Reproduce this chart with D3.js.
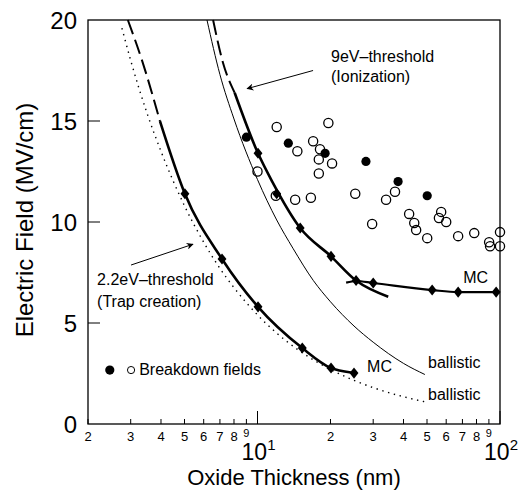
<!DOCTYPE html>
<html>
<head>
<meta charset="utf-8">
<script src="https://cdn.jsdelivr.net/npm/d3@7"></script>
<style>
  body { margin: 0; background: #fff; }
  svg { font-family: "Liberation Sans", Arial, Helvetica, sans-serif; }
  text { fill: #000; }
</style>
</head>
<body>
<svg id="chart"></svg>
<script>
// chart size
const width = 520;
const height = 492;
const margin = { top: 20, right: 20, bottom: 68, left: 88 };

// axis ticks
const xMinorTicks = [2, 3, 4, 5, 6, 7, 8, 9, 20, 30, 40, 50, 60, 70, 80, 90];
const xMajorTicks = [10, 100];
const xMajorExp = ["1", "2"];
const yTicks = [0, 5, 10, 15, 20];

// ballistic curves [thickness nm, field MV/cm]
const ballistic22 = [[2.76, 19.6], [3.0, 18.0], [3.5, 15.4], [4, 13.5], [5, 10.8], [6, 9.0], [7, 7.7],
  [8, 6.75], [10, 5.4], [12, 4.5], [15, 3.6], [20, 2.7], [25, 2.16], [30, 1.8], [40, 1.35], [49, 1.1]];
const ballistic9 = [[6.19, 20], [7, 17.3], [8, 15.1], [10, 12.1], [12, 10.1], [14, 8.7], [17, 7.1],
  [20, 6.05], [25, 4.85], [30, 4.05], [40, 3.0], [49, 2.45]];

// threshold curves (dashed extrapolation + MC solid part)
const thr22Dashed = [[2.92, 20], [3.34, 18.0], [3.96, 15.0]];
const thr22Solid = [[3.96, 15.0], [5.02, 11.4], [7.14, 8.17], [10.05, 5.8], [15.3, 3.76], [20.1, 2.77], [24.3, 2.55]];
const thr9Dashed = [[6.56, 20], [7.2, 17.9], [8.05, 16.4]];
const thr9Solid = [[8.05, 16.4], [10.05, 13.4], [11.5, 12.0], [15.0, 9.7], [20.1, 8.3], [25.5, 7.1], [34.6, 6.3]];
const mcFlat = [[23.2, 7.0], [25.5, 7.08], [30, 6.98], [52.5, 6.63], [67.2, 6.53], [96.4, 6.53], [100, 6.52]];

// MC diamonds
const mcLow = [[5.02, 11.4], [7.14, 8.17], [10.05, 5.8], [15.3, 3.76], [20.1, 2.77], [25.0, 2.52]];
const mcHigh = [[10.05, 13.4], [12.0, 11.4], [15.0, 9.7], [20.1, 8.3], [25.5, 7.1], [30, 6.98],
  [52.5, 6.63], [67.2, 6.53], [96.4, 6.53]];

// breakdown fields
const breakdownFilled = [[9.0, 14.2], [13.4, 13.9], [19.0, 13.4], [28.0, 13.0], [38.0, 12.0], [50.1, 11.3]];
const breakdownOpen = [[10.0, 12.5], [11.9, 11.3], [12.0, 14.7], [14.6, 13.5], [14.3, 11.1], [16.6, 11.2],
  [16.96, 14.0], [18.1, 13.6], [17.9, 13.1], [17.9, 12.4], [19.6, 14.9], [20.3, 12.9], [25.3, 11.4],
  [29.7, 9.9], [33.9, 11.1], [36.9, 11.5], [42.2, 10.4], [44.3, 9.95], [45.1, 9.6], [50.1, 9.2],
  [57.2, 10.5], [56.0, 10.2], [60.0, 10.0], [67.2, 9.3], [78.3, 9.45], [90.2, 9.0], [91, 8.8],
  [100, 9.5], [100, 8.8]];

const svg = d3.select("#chart")
  .attr("width", width)
  .attr("height", height);

const x = d3.scaleLog()
  .domain([2, 100])
  .range([margin.left, width - margin.right]);

const y = d3.scaleLinear()
  .domain([0, 20])
  .range([height - margin.bottom, margin.top]);

const x0 = margin.left, x1 = width - margin.right;
const y0 = height - margin.bottom, y1 = margin.top;

// frame
svg.append("rect")
  .attr("x", x0).attr("y", y1)
  .attr("width", x1 - x0).attr("height", y0 - y1)
  .attr("fill", "none").attr("stroke", "#000").attr("stroke-width", 1.3);

// y ticks (inside)
svg.selectAll(".ytick")
  .data(yTicks.filter(d => d > 0 && d < 20))
  .enter().append("line")
  .attr("x1", x0).attr("x2", x0 + 12)
  .attr("y1", d => y(d)).attr("y2", d => y(d))
  .attr("stroke", "#000").attr("stroke-width", 1);

svg.selectAll(".ylab")
  .data(yTicks)
  .enter().append("text")
  .attr("x", x0 - 11)
  .attr("y", d => y(d))
  .attr("dy", "0.36em")
  .style("text-anchor", "end")
  .style("font-size", "24px")
  .text(d => d);

// x ticks (inside)
svg.selectAll(".xminor")
  .data(xMinorTicks)
  .enter().append("line")
  .attr("x1", d => x(d)).attr("x2", d => x(d))
  .attr("y1", y0).attr("y2", y0 - 5)
  .attr("stroke", "#000").attr("stroke-width", 1);

svg.selectAll(".xmajor")
  .data(xMajorTicks)
  .enter().append("line")
  .attr("x1", d => x(d)).attr("x2", d => x(d))
  .attr("y1", y0).attr("y2", y0 - 13)
  .attr("stroke", "#000").attr("stroke-width", 1);

// the "9" next to each decade sits a little higher and smaller, as in the original
svg.selectAll(".xminlab")
  .data(xMinorTicks)
  .enter().append("text")
  .attr("x", d => x(d))
  .attr("y", d => String(d)[0] === "9" ? y0 + 13 : y0 + 17)
  .style("text-anchor", "middle")
  .style("font-size", d => String(d)[0] === "9" ? "11px" : "13px")
  .text(d => String(d)[0]);

const majLab = svg.selectAll(".xmajlab")
  .data(xMajorTicks)
  .enter().append("text")
  .attr("x", d => x(d) + 1)
  .attr("y", y0 + 36)
  .style("text-anchor", "middle")
  .style("font-size", "23px");
majLab.append("tspan").text("10");
majLab.append("tspan")
  .attr("dy", -10)
  .style("font-size", "15px")
  .text((d, i) => xMajorExp[i]);

// axis titles
svg.append("text")
  .attr("x", (x0 + x1) / 2)
  .attr("y", 485)
  .style("text-anchor", "middle")
  .style("font-size", "22px")
  .text("Oxide Thickness (nm)");

svg.append("text")
  .attr("transform", "translate(33," + (y(10) - 2) + ") rotate(-90)")
  .style("text-anchor", "middle")
  .style("font-size", "24px")
  .text("Electric Field (MV/cm)");

// curves
const line = d3.line()
  .x(d => x(d[0]))
  .y(d => y(d[1]))
  .curve(d3.curveMonotoneX);

function drawCurve(data, w, dash) {
  svg.append("path")
    .datum(data)
    .attr("d", line)
    .attr("fill", "none")
    .attr("stroke", "#000")
    .attr("stroke-width", w)
    .attr("stroke-dasharray", dash || null);
}

drawCurve(ballistic22, 1.4, "1.4,4.6");
drawCurve(ballistic9, 1);
drawCurve(thr22Dashed, 2, "15,6");
drawCurve(thr22Solid, 2.6);
drawCurve(thr9Dashed, 2, "15,6");
drawCurve(thr9Solid, 2.6);
drawCurve(mcFlat, 2.2);

// diamond symbol
const diamond = {
  draw(ctx, size) {
    const h = Math.sqrt(size) * 0.62, w = h * 0.8;
    ctx.moveTo(0, -h); ctx.lineTo(w, 0); ctx.lineTo(0, h); ctx.lineTo(-w, 0); ctx.closePath();
  }
};

svg.selectAll(".mc")
  .data(mcLow.concat(mcHigh))
  .enter().append("path")
  .attr("d", d3.symbol(diamond, 80))
  .attr("transform", d => "translate(" + x(d[0]) + "," + y(d[1]) + ")")
  .attr("fill", "#000");

svg.selectAll(".bdOpen")
  .data(breakdownOpen)
  .enter().append("circle")
  .attr("cx", d => x(d[0])).attr("cy", d => y(d[1]))
  .attr("r", 4.6)
  .attr("fill", "none").attr("stroke", "#000").attr("stroke-width", 1.3);

svg.selectAll(".bdFilled")
  .data(breakdownFilled)
  .enter().append("circle")
  .attr("cx", d => x(d[0])).attr("cy", d => y(d[1]))
  .attr("r", 4.6)
  .attr("fill", "#000");

// annotations
svg.append("defs").append("marker")
  .attr("id", "arrow")
  .attr("viewBox", "0 0 10 10")
  .attr("refX", 9).attr("refY", 5)
  .attr("markerWidth", 9).attr("markerHeight", 7)
  .attr("markerUnits", "userSpaceOnUse")
  .attr("orient", "auto")
  .append("path")
  .attr("d", "M0,0 L10,5 L0,10 L3,5 Z")
  .attr("fill", "#000");

function arrow(from, to) {
  svg.append("line")
    .attr("x1", x(from[0])).attr("y1", y(from[1]))
    .attr("x2", x(to[0])).attr("y2", y(to[1]))
    .attr("stroke", "#000").attr("stroke-width", 1)
    .attr("marker-end", "url(#arrow)");
}
arrow([16.95, 17.5], [9.06, 16.6]);
arrow([3.01, 7.87], [5.42, 8.9]);

function label(pos, txt, size) {
  svg.append("text")
    .attr("x", x(pos[0])).attr("y", y(pos[1]))
    .style("font-size", (size || 16) + "px")
    .text(txt);
}
label([20.1, 17.92], "9eV\u2013threshold");
label([20.1, 16.93], "(Ionization)");
label([2.18, 6.88], "2.2eV\u2013threshold");
label([2.18, 5.79], "(Trap creation)");
label([3.25, 2.43], "Breakdown fields");
label([70.5, 6.98], "MC");
label([28.3, 2.57], "MC");
label([50.5, 2.77], "ballistic");
label([50.5, 1.19], "ballistic");

svg.append("circle")
  .attr("cx", x(2.46)).attr("cy", y(2.67))
  .attr("r", 4.6).attr("fill", "#000");
svg.append("circle")
  .attr("cx", x(3.01)).attr("cy", y(2.67))
  .attr("r", 3.6).attr("fill", "none").attr("stroke", "#000").attr("stroke-width", 1);
</script>
</body>
</html>
